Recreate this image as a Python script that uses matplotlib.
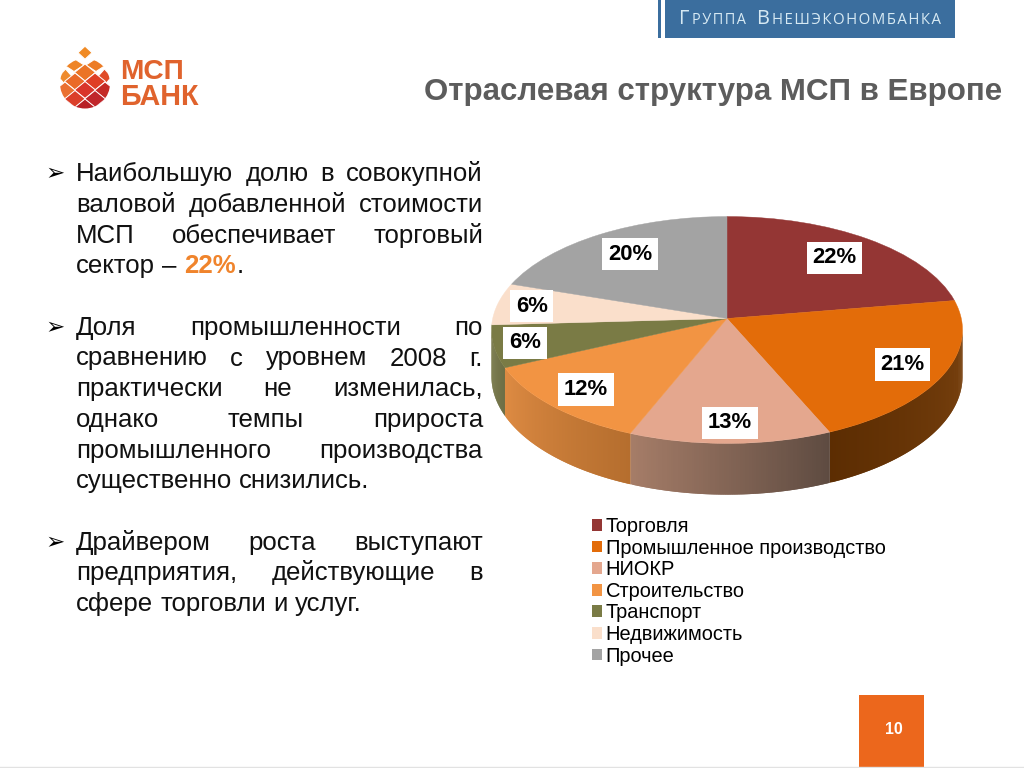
import numpy as np
import matplotlib
matplotlib.use("Agg")
import matplotlib.pyplot as plt
from matplotlib.colors import to_rgb
from matplotlib.collections import PolyCollection
from matplotlib.patches import Rectangle, Polygon, Circle
from matplotlib.transforms import Transform

plt.rcParams["text.hinting"] = "native"
plt.rcParams["text.hinting_factor"] = 8

# ---- data ----
categories = ["Торговля", "Промышленное производство", "НИОКР", "Строительство",
              "Транспорт", "Недвижимость", "Прочее"]
shares = [22.4, 21.1, 12.6, 12, 6, 6, 19.9]
colors = ["#943634", "#E36C09", "#E4A78E", "#F29443", "#7A7B45", "#FADFCB", "#A3A3A3"]
wall_left = ["#943634", "#5C2D02", "#A67D68", "#DE8B43", "#767743", "#FADFCB", "#A3A3A3"]
wall_right = ["#943634", "#7A420F", "#5E4B41", "#B56E2E", "#65663A", "#FADFCB", "#A3A3A3"]
label_radius = [0.75, 0.82, 0.85, 0.82, 0.87, 0.85, 0.75]

title = "Отраслевая структура МСП в Европе"
body = [
    ("Наибольшую долю в совокупной", True, True),
    ("валовой добавленной стоимости", True, False),
    ("МСП обеспечивает торговый", True, False),
    ("сектор – 22%.", False, False),
    None,
    ("Доля промышленности по", True, True),
    ("сравнению с уровнем 2008 г.", True, False),
    ("практически не изменилась,", True, False),
    ("однако темпы прироста", True, False),
    ("промышленного производства", True, False),
    ("существенно снизились.", False, False),
    None,
    ("Драйвером роста выступают", True, True),
    ("предприятия, действующие в", True, False),
    ("сфере торговли и услуг.", False, False),
]
highlight = "22%"
page_number = "10"

# ---- layout ----
W, H = 1024, 768
PX = 72 / 100
CX, CY, BX, AY, K, DEPTH = 727, 318.5, 234.3, 112.3, 0.1013, 46

fig = plt.figure(figsize=(W / 100, H / 100), dpi=100, facecolor="white")
ax = fig.add_axes([0, 0, 1, 1])
SANS = "Liberation Sans"


class Perspective(Transform):
    input_dims = output_dims = 2
    is_affine = False
    has_inverse = False

    def transform_non_affine(self, values):
        v = np.asarray(values, float)
        w = 1 + K * v[:, 1]
        return np.column_stack([CX + BX * v[:, 0] / w, CY - AY * v[:, 1] / w])


persp = Perspective()

wedges, _, pct = ax.pie(shares, colors=colors, startangle=90, counterclock=False,
                        autopct="%.0f%%", pctdistance=0.8)
ax.set_aspect("auto")
ax.set_xlim(0, W)
ax.set_ylim(H, 0)
ax.axis("off")

# front wall, following each wedge's own angles
VIS_LO, VIS_HI = 185.8, 354.2
for wedge, cl, cr in zip(wedges, wall_left, wall_right):
    t1, t2 = wedge.theta1, wedge.theta2
    for shift in (-360, 0, 360):
        a2, b2 = max(t1 + shift, VIS_LO), min(t2 + shift, VIS_HI)
        if b2 <= a2:
            continue
        th = np.radians(np.linspace(a2, b2, 90))
        top = persp.transform_non_affine(np.column_stack([np.cos(th), np.sin(th)]))
        w = 1 + K * np.sin(th)
        bot = top + np.column_stack([np.zeros_like(w), DEPTH / w])
        polys, cols = [], []
        cL, cR = np.array(to_rgb(cl)), np.array(to_rgb(cr))
        n = len(th) - 1
        for i in range(n):
            j = min(i + 2, n)  # overlap the next strip so no seams show
            polys.append(list(top[i:j + 1]) + list(bot[i:j + 1][::-1]))
            f = (i + .5) / n
            cols.append(cL * (1 - f) + cR * f)
        ax.add_collection(PolyCollection(polys, facecolors=cols, edgecolors="none",
                                         linewidths=0, zorder=1))

for wedge in wedges:
    wedge.set_transform(persp + ax.transData)
    wedge.set_edgecolor(wedge.get_facecolor())
    wedge.set_linewidth(0.3)
    wedge.set_zorder(2)

for wedge, t, r in zip(wedges, pct, label_radius):
    a = np.radians((wedge.theta1 + wedge.theta2) / 2)
    t.set_transform(ax.transData)
    x, y = persp.transform_non_affine(np.array([[r * np.cos(a), r * np.sin(a)]]))[0]
    t.set_position((x, y))
    t.set(fontfamily=SANS, fontsize=22 * PX, fontweight="bold", color="black",
          ha="center", va="center", zorder=3)
    t.set_bbox(dict(facecolor="white", edgecolor="none",
                    boxstyle="square,pad=0.26"))

# legend
LEG_FS = 19.95
leg = ax.legend(wedges, categories, loc="upper left",
                bbox_to_anchor=(592 / W, 1 - 517 / H), bbox_transform=fig.transFigure,
                frameon=False, labelspacing=0.13, handlelength=0.52,
                handleheight=0.52, handletextpad=0.17, borderpad=0, borderaxespad=0,
                prop=dict(family=SANS, size=LEG_FS * PX))
for h in leg.get_patches():
    h.set_linewidth(0)

# body text, justified between the two margins
r = fig.canvas.get_renderer()
LEFT, RIGHT, BASE, PITCH = 76, 483, 181.3, 30.7
FS = 25.8 * PX


def width(s, **kw):
    t = ax.text(0, 0, s, fontsize=FS, fontfamily=SANS, **kw)
    b = t.get_window_extent(r).width
    t.remove()
    return b


space = width("a a") - width("aa")
for i, item in enumerate(body):
    if item is None:
        continue
    line, justify, bullet = item
    y = BASE + PITCH * i
    words = line.split(" ")
    ws = [width(wd) for wd in words]
    gap = (RIGHT - LEFT - sum(ws)) / (len(words) - 1) if justify else space
    x = LEFT
    for wd, wid in zip(words, ws):
        if highlight in wd:
            ax.text(x, y, highlight, fontsize=FS, fontfamily=SANS, fontweight="bold",
                    color="#F0842C", va="baseline", ha="left")
            x2 = x + width(highlight, fontweight="bold") + 1
            ax.text(x2, y, wd.replace(highlight, ""), fontsize=FS, fontfamily=SANS,
                    color="#111111", va="baseline", ha="left")
        else:
            ax.text(x, y, wd, fontsize=FS, fontfamily=SANS, color="#111111",
                    va="baseline", ha="left")
        x += wid + gap
    if bullet:
        ax.text(45, y - 1, "➢", fontsize=23 * PX, fontfamily="DejaVu Sans",
                color="black", va="baseline", ha="left")

# title
ax.text(1002, 99.5, title, fontsize=31.25 * PX, fontfamily=SANS, fontweight="bold",
        color="#5C5C5C", ha="right", va="baseline")

# header banner
BLUE = "#3B6E9E"
ax.add_patch(Rectangle((657.5, 0), 3.5, 38, fc=BLUE, ec="none"))
ax.add_patch(Rectangle((665, 0), 290, 38, fc=BLUE, ec="none"))
HS = "\u200a"
for x, s, size in [(678, "Г", 20), (692, HS.join("РУППА"), 14.5),
                   (756, "В", 20), (772, HS.join("НЕШЭКОНОМБАНКА"), 15)]:
    ax.text(x, 24, s, fontsize=size * PX, fontfamily=["Open Sans", "DejaVu Sans"],
            color="#D6E9F3", va="baseline", ha="left")

# logo
tile_x = [85, 74, 96, 85, 65.5, 104.5, 75, 95, 85, 65, 105, 75, 95, 85]
tile_y = [52.7, 65, 65, 72.5, 77, 77, 81.5, 81.5, 90, 90.5, 90.5, 99, 99, 107.5]
tile_c = ["#F08A24", "#EE8426", "#EC7C26", "#EB7426", "#EE8A2C", "#E04A28", "#EA6A28",
          "#DF3F25", "#D9352A", "#EA7030", "#C42A26", "#DB3F2A", "#C0262A", "#B81F25"]
tile_hw = [7, 10, 10, 10.5, 7, 7, 10.5, 10.5, 10.5, 10.5, 10.5, 10.5, 10.5, 10.5]
tile_hh = [6.5, 6.5, 6.5, 8.5, 8, 8, 8.5, 8.5, 8.5, 8.5, 8.5, 8.5, 8.5, 8.5]
disc = Circle((85, 83.5), 25, transform=ax.transData)
for idx, (x, y, c, hw, hh) in enumerate(zip(tile_x, tile_y, tile_c, tile_hw, tile_hh)):
    p = Polygon([(x - hw, y), (x, y - hh), (x + hw, y), (x, y + hh)],
                closed=True, fc=c, ec="white", lw=0.7)
    ax.add_patch(p)
    if idx > 0:
        p.set_clip_path(disc)
for s, y, size in [("МСП", 79, 28), ("БАНК", 105, 28.8)]:
    ax.text(120.5, y, s, fontsize=size * PX, fontfamily=SANS, fontweight="bold",
            color="#E0632D", va="baseline", ha="left")

# page number and foot line
ax.add_patch(Rectangle((859, 695), 64.5, 73, fc="#EC671C", ec="none"))
ax.text(893.5, 729, page_number, fontsize=16 * PX, fontfamily=SANS, fontweight="bold",
        color="white", ha="center", va="center")
ax.plot([0, W], [767.3, 767.3], color="#E2E2E2", lw=1)

fig.savefig("out.png", dpi=100, facecolor="white")
